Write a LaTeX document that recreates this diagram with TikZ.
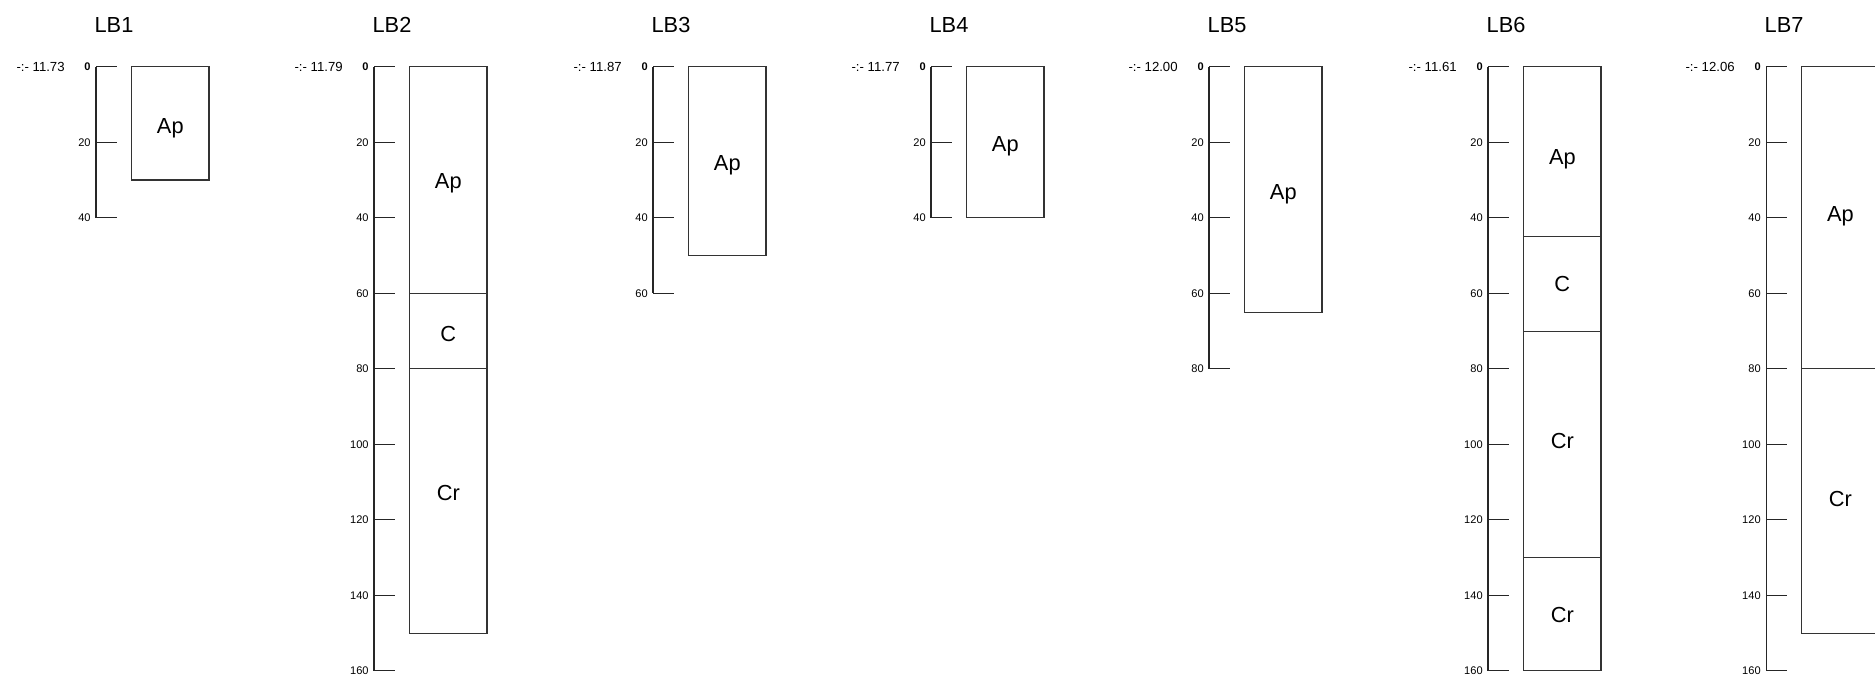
\documentclass[tikz,border=0pt]{standalone}
\usepackage{fontspec}
\setmainfont{Liberation Sans}
\usepackage{tikz}

\tikzset{
  title/.style = {font=\fontsize{12.4}{14}\selectfont},
  elev/.style = {anchor=east, inner sep=0pt, font=\fontsize{7.5}{9}\selectfont},
  depth/.style = {anchor=east, inner sep=0pt, font=\fontsize{6.3}{7}\selectfont},
  soil/.style = {anchor=base, yshift=-4.44pt, inner sep=0pt, font=\fontsize{12.4}{14}\selectfont},
  layer/.style = {line width=0.6pt, draw=black!80},
  scaleline/.style = {line width=0.6pt, draw=black!85}
}

\begin{document}
\begin{tikzpicture}[x=0.02cm, y=-0.07554cm]
\useasboundingbox (0,-17.66) rectangle (1875,162.64);

\node[title] (lb1) at (114,-11.04) {LB1};
\node[elev] (el1) at (65,0) {-:- 11.73};
\draw[scaleline] (96,0) -- (96,40);
\foreach \d in {0,20,40} \draw[scaleline] (96,\d) -- (117,\d);
\node[depth] (d1a) at (91,0) {\textbf{0}};
\node[depth] (d1b) at (91,20) {20};
\node[depth] (d1c) at (91,40) {40};
\draw[layer] (131.5,0) rectangle (209,30);
\node[soil] (lb1ap) at (170.3,15.5) {Ap};

\node[title] (lb2) at (392,-11.04) {LB2};
\node[elev] (el2) at (343,0) {-:- 11.79};
\draw[scaleline] (374,0) -- (374,160);
\foreach \d in {0,20,...,160} \draw[scaleline] (374,\d) -- (395,\d);
\node[depth] (d2a) at (369,0) {\textbf{0}};
\foreach \d in {20,40,...,160} \node[depth] (d2\d) at (369,\d) {\d};
\draw[layer] (409.5,0) rectangle (487,60);
\draw[layer] (409.5,60) rectangle (487,80);
\draw[layer] (409.5,80) rectangle (487,150);
\node[soil] (lb2ap) at (448.3,30.3) {Ap};
\node[soil] (lb2c) at (448.3,70.7) {C};
\node[soil] (lb2cr) at (448.3,112.7) {Cr};

\node[title] (lb3) at (671,-11.04) {LB3};
\node[elev] (el3) at (622,0) {-:- 11.87};
\draw[scaleline] (653,0) -- (653,60);
\foreach \d in {0,20,40,60} \draw[scaleline] (653,\d) -- (674,\d);
\node[depth] (d3a) at (648,0) {\textbf{0}};
\foreach \d in {20,40,60} \node[depth] (d3\d) at (648,\d) {\d};
\draw[layer] (688.5,0) rectangle (766,50);
\node[soil] (lb3ap) at (727.3,25.3) {Ap};

\node[title] (lb4) at (949,-11.04) {LB4};
\node[elev] (el4) at (900,0) {-:- 11.77};
\draw[scaleline] (931,0) -- (931,40);
\foreach \d in {0,20,40} \draw[scaleline] (931,\d) -- (952,\d);
\node[depth] (d4a) at (926,0) {\textbf{0}};
\foreach \d in {20,40} \node[depth] (d4\d) at (926,\d) {\d};
\draw[layer] (966.5,0) rectangle (1044,40);
\node[soil] (lb4ap) at (1005.3,20.3) {Ap};

\node[title] (lb5) at (1227,-11.04) {LB5};
\node[elev] (el5) at (1178,0) {-:- 12.00};
\draw[scaleline] (1209,0) -- (1209,80);
\foreach \d in {0,20,...,80} \draw[scaleline] (1209,\d) -- (1230,\d);
\node[depth] (d5a) at (1204,0) {\textbf{0}};
\foreach \d in {20,40,...,80} \node[depth] (d5\d) at (1204,\d) {\d};
\draw[layer] (1244.5,0) rectangle (1322,65);
\node[soil] (lb5ap) at (1283.3,33) {Ap};

\node[title] (lb6) at (1506,-11.04) {LB6};
\node[elev] (el6) at (1457,0) {-:- 11.61};
\draw[scaleline] (1488,0) -- (1488,160);
\foreach \d in {0,20,...,160} \draw[scaleline] (1488,\d) -- (1509,\d);
\node[depth] (d6a) at (1483,0) {\textbf{0}};
\foreach \d in {20,40,...,160} \node[depth] (d6\d) at (1483,\d) {\d};
\draw[layer] (1523.5,0) rectangle (1601,45);
\draw[layer] (1523.5,45) rectangle (1601,70);
\draw[layer] (1523.5,70) rectangle (1601,130);
\draw[layer] (1523.5,130) rectangle (1601,160);
\node[soil] (lb6ap) at (1562.3,23.9) {Ap};
\node[soil] (lb6c) at (1562.3,57.4) {C};
\node[soil] (lb6cr) at (1562.3,98.9) {Cr};
\node[soil] (lb6crb) at (1562.3,145.1) {Cr};

\node[title] (lb7) at (1784,-11.04) {LB7};
\node[elev] (el7) at (1735,0) {-:- 12.06};
\draw[scaleline] (1766,0) -- (1766,160);
\foreach \d in {0,20,...,160} \draw[scaleline] (1766,\d) -- (1787,\d);
\node[depth] (d7a) at (1761,0) {\textbf{0}};
\foreach \d in {20,40,...,160} \node[depth] (d7\d) at (1761,\d) {\d};
\draw[layer] (1801.5,0) rectangle (1879,80);
\draw[layer] (1801.5,80) rectangle (1879,150);
\node[soil] (lb7ap) at (1840.3,38.8) {Ap};
\node[soil] (lb7cr) at (1840.3,114.4) {Cr};
\end{tikzpicture}
\end{document}
